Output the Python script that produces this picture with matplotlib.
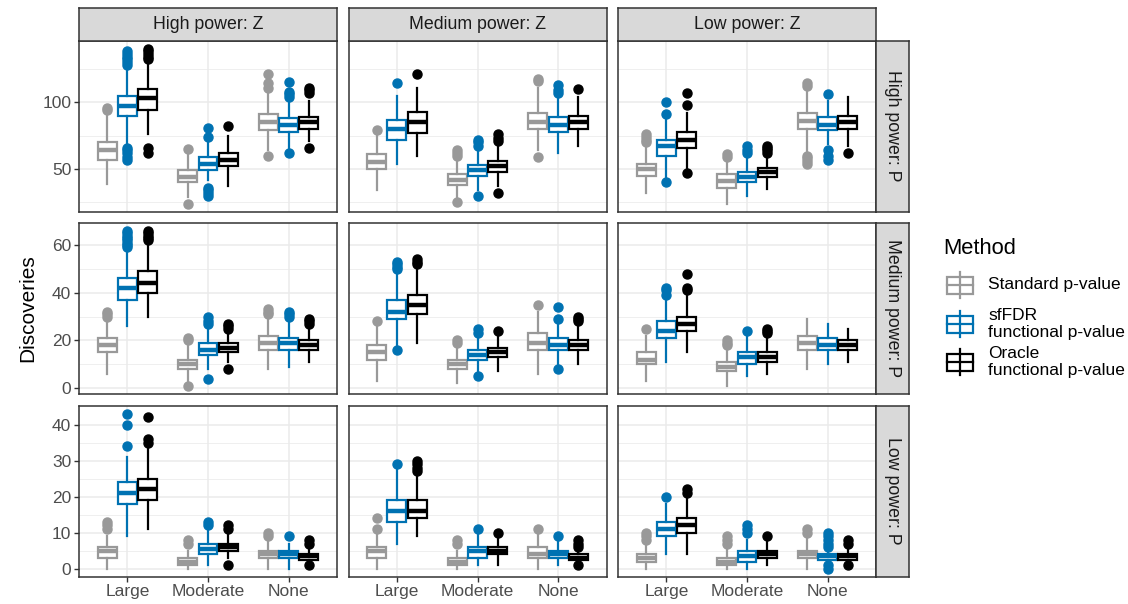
import matplotlib
matplotlib.use("Agg")
import matplotlib.pyplot as plt
from matplotlib.patches import Rectangle

plt.rcParams['font.family'] = ['Liberation Sans', 'DejaVu Sans']

categories = ['Large', 'Moderate', 'None']
methods = ['Standard p-value', 'sfFDR\nfunctional p-value', 'Oracle\nfunctional p-value']
method_colors = ['#999999', '#0072B2', '#000000']
col_labels = ['High power: Z', 'Medium power: Z', 'Low power: Z']
row_labels = ['High power: P', 'Medium power: P', 'Low power: P']

# every panel: Large (std, sfFDR, oracle), Moderate (...), None (...)
# rows = power of P, columns = power of Z
whislo = [
    [[39, 69, 76, 29, 42, 37, 64, 66, 71],
     [34, 54, 60, 29, 34, 37, 64, 62, 67],
     [32, 44, 51, 24, 30, 35, 62, 69, 67]],
    [[6, 26, 30, 3, 8, 11, 8, 9, 11],
     [3, 17, 19, 2, 7, 7, 6, 10, 10],
     [3, 11, 15, 1, 5, 6, 8, 10, 11]],
    [[0, 9, 11, 0, 1, 3, 0, 0, 2],
     [0, 7, 9, 0, 1, 1, 0, 1, 2],
     [0, 4, 4, 0, 0, 1, 0, 2, 2]],
]
q1 = [
    [[57, 90, 94, 40, 49, 52, 79, 78, 80],
     [50, 72, 77, 38, 45, 48, 80, 78, 80],
     [45, 60, 66, 36, 40, 44, 80, 79, 80]],
    [[15, 37, 40, 8, 14, 15, 16, 16, 16],
     [12, 29, 31, 8, 12, 13, 16, 16, 16],
     [10, 21, 24, 7, 10, 11, 16, 16, 16]],
    [[3, 18, 19, 1, 4, 5, 3, 3, 2.5],
     [3, 13, 14, 1, 3, 4, 3, 3, 2.5],
     [2, 9, 10, 1, 2, 3, 3, 2.5, 2.5]],
]
median = [
    [[64, 97, 103, 44, 54, 57, 85, 83, 85],
     [55, 80, 85, 42, 49, 52, 85, 83, 85],
     [50, 67, 72, 41, 44, 48, 86, 83, 85]],
    [[18, 42, 44, 10, 16, 17, 19, 19, 18],
     [15, 32, 35, 10, 14, 15, 19, 18, 18],
     [12, 24, 27, 9, 13, 13, 19, 18, 18]],
    [[5, 21, 22, 2, 5.5, 6, 4, 4, 3.5],
     [5, 16, 16, 2, 5, 5, 4, 4, 3],
     [3, 11, 12, 2, 3.5, 4, 4, 3.5, 3.5]],
]
q3 = [
    [[70, 105, 110, 49, 59, 62, 91, 88, 89],
     [61, 87, 93, 46, 53, 56, 92, 89, 90],
     [54, 72, 78, 46, 48, 51, 92, 89, 90]],
    [[21, 46, 49, 12, 19, 19, 22, 21, 20],
     [18, 37, 39, 12, 16, 17, 23, 21, 20],
     [15, 28, 30, 11, 15, 15, 22, 21, 20]],
    [[6, 24, 25, 3, 7, 7, 5, 5, 4],
     [6, 19, 19, 3, 6, 6, 6, 5, 4],
     [4, 13, 14, 3, 5, 5, 5, 4, 4]],
]
whishi = [
    [[90, 126, 131, 61, 71, 75, 110, 101, 101],
     [75, 105, 111, 56, 65, 69, 111, 104, 104],
     [69, 89, 92, 56, 60, 61, 110, 101, 104]],
    [[29, 58, 61, 19, 25, 24, 30, 29, 26],
     [26, 49, 50, 17, 22, 22, 32, 27, 26],
     [22, 37, 39, 16, 22, 22, 29, 27, 25]],
    [[9, 31, 34, 5, 11, 10, 8, 7, 6],
     [10, 28, 26, 5, 10, 9, 10, 8, 5],
     [7, 18, 20, 6, 8, 8, 9, 5, 6]],
]
outliers = [
    [[[94, 96], [57, 59, 62, 64, 66, 128, 130, 132, 134, 136, 138], [62, 66, 132, 134, 136, 138, 140],
      [24, 65], [30, 32, 34, 36, 74, 81], [82],
      [60, 111, 114, 121], [62, 104, 106, 108, 115], [66, 107, 109, 111]],
     [[79], [114], [121],
      [25, 60, 62, 64], [30, 67, 70, 72], [32, 71, 73, 76],
      [59, 116, 117], [107, 109, 113], [110]],
     [[70, 72, 74, 76], [40, 91, 100], [47, 98, 107],
      [59, 61], [62, 64, 67], [62, 64, 66, 67],
      [54, 56, 58, 60, 112, 114], [57, 60, 64, 106], [62]]],
    [[[30, 31, 32], [59, 60, 61, 62, 63, 64, 65, 66], [62, 63, 64, 65, 66],
      [1, 20, 21], [4, 27, 28, 30], [8, 25, 26, 27],
      [31, 32, 33], [30, 31, 32], [27, 28, 29]],
     [[28], [16, 50, 51, 52, 53], [52, 53, 54],
      [19, 20], [5, 23, 25], [24],
      [35], [8, 29, 34], [28, 29, 30]],
     [[25], [39, 41, 42], [41, 42, 48],
      [18, 19, 20], [24], [23, 24, 25],
      [], [], []]],
    [[[11, 12, 13], [34, 40, 43], [35, 36, 42],
      [7, 8], [12, 13], [1, 11, 12],
      [9, 10], [9], [1, 7, 8]],
     [[11, 14], [29], [27, 28, 29, 30],
      [7, 8], [11], [10],
      [11], [9], [1, 6, 7, 8]],
     [[8, 9, 10], [20], [21, 22],
      [7, 8, 9], [10, 11, 12], [9],
      [10, 11], [0, 1, 6, 7, 8, 9, 10], [1, 7, 8]]],
]
major_ticks = [[50, 100], [0, 20, 40, 60], [0, 10, 20, 30, 40]]
minor_ticks = [[25, 75, 125], [10, 30, 50], [5, 15, 25, 35]]

W, H = 1128, 604
fig = plt.figure(figsize=(W / 100, H / 100), dpi=100)

col_x = [79, 348.5, 618]
pw = 258
row_top = [41, 223, 406]
ph = 170.5
strip = 33
dark = '#333333'


def px_rect(x, top, w, h):
    return [x / W, 1 - (top + h) / H, w / W, h / H]


for r in range(3):
    # shared y range for the row, ggplot-style 5% padding
    vals = []
    for c in range(3):
        vals += whislo[r][c] + whishi[r][c]
        for f in outliers[r][c]:
            vals += f
    lo, hi = min(vals), max(vals)
    pad = 0.05 * (hi - lo)
    for c in range(3):
        ax = fig.add_axes(px_rect(col_x[c], row_top[r], pw, ph))
        for m in range(3):
            stats, pos = [], []
            for k in range(3):
                i = k * 3 + m
                stats.append(dict(whislo=whislo[r][c][i], q1=q1[r][c][i], med=median[r][c][i],
                                  q3=q3[r][c][i], whishi=whishi[r][c][i],
                                  fliers=outliers[r][c][i]))
                pos.append(k + 1 + (m - 1) * 0.25)
            col = method_colors[m]
            ax.bxp(stats, positions=pos, widths=0.235, patch_artist=True, showcaps=False,
                   boxprops=dict(facecolor='white', edgecolor=col, linewidth=1.6),
                   medianprops=dict(color=col, linewidth=3.2, solid_capstyle='butt'),
                   whiskerprops=dict(color=col, linewidth=1.6),
                   flierprops=dict(marker='o', markerfacecolor=col, markeredgecolor=col,
                                   markersize=6.5),
                   manage_ticks=False, zorder=3)
        ax.set_xlim(0.4, 3.6)
        ax.set_ylim(lo - pad, hi + pad)
        ax.set_xticks([1, 2, 3])
        ax.set_yticks(major_ticks[r])
        ax.set_yticks(minor_ticks[r], minor=True)
        ax.grid(which='major', color='#EBEBEB', linewidth=1.1, zorder=0)
        ax.grid(which='minor', axis='y', color='#EBEBEB', linewidth=0.55, zorder=0)
        ax.set_axisbelow(True)
        ax.tick_params(which='minor', length=0)
        ax.tick_params(which='major', length=3.5, width=1, color=dark,
                       labelcolor='#4D4D4D', labelsize=12.5, pad=2)
        for s in ax.spines.values():
            s.set_color(dark)
            s.set_linewidth(1.1)
        if r == 2:
            ax.set_xticklabels(categories)
        else:
            ax.tick_params(axis='x', length=0, labelbottom=False)
        if c != 0:
            ax.tick_params(axis='y', length=0, labelleft=False)

        if r == 0:
            sax = fig.add_axes(px_rect(col_x[c], row_top[r] - strip, pw, strip))
            sax.set_facecolor('#D9D9D9')
            sax.set_xticks([]); sax.set_yticks([])
            for s in sax.spines.values():
                s.set_color(dark); s.set_linewidth(1.1)
            sax.text(0.5, 0.5, col_labels[c], ha='center', va='center',
                     fontsize=12.8, color='#1A1A1A', transform=sax.transAxes)
        if c == 2:
            sax = fig.add_axes(px_rect(col_x[c] + pw, row_top[r], strip, ph))
            sax.set_facecolor('#D9D9D9')
            sax.set_xticks([]); sax.set_yticks([])
            for s in sax.spines.values():
                s.set_color(dark); s.set_linewidth(1.1)
            sax.text(0.5, 0.5, row_labels[r], ha='center', va='center', rotation=-90,
                     fontsize=12.8, color='#1A1A1A', transform=sax.transAxes)

fig.text(28 / W, 1 - 308 / H, 'Discoveries', rotation=90, ha='center', va='center',
         fontsize=15, color='black')

# legend drawn in pixel coordinates
lax = fig.add_axes([0, 0, 1, 1])
lax.set_xlim(0, W)
lax.set_ylim(H, 0)
lax.axis('off')
lax.text(943, 248, 'Method', ha='left', va='center', fontsize=15.8)
key_y = [285, 324, 362]
for m in range(3):
    col = method_colors[m]
    y = key_y[m]
    lax.plot([960, 960], [y - 13, y + 13], color=col, lw=1.6)
    lax.add_patch(Rectangle((947, y - 8.5), 26, 17, facecolor='white', edgecolor=col, lw=1.6))
    lax.plot([947, 973], [y, y], color=col, lw=1.6)
    lax.text(988, y, methods[m], ha='left', va='center', fontsize=12.5,
             linespacing=1.1)

fig.savefig('out.png', dpi=100)
